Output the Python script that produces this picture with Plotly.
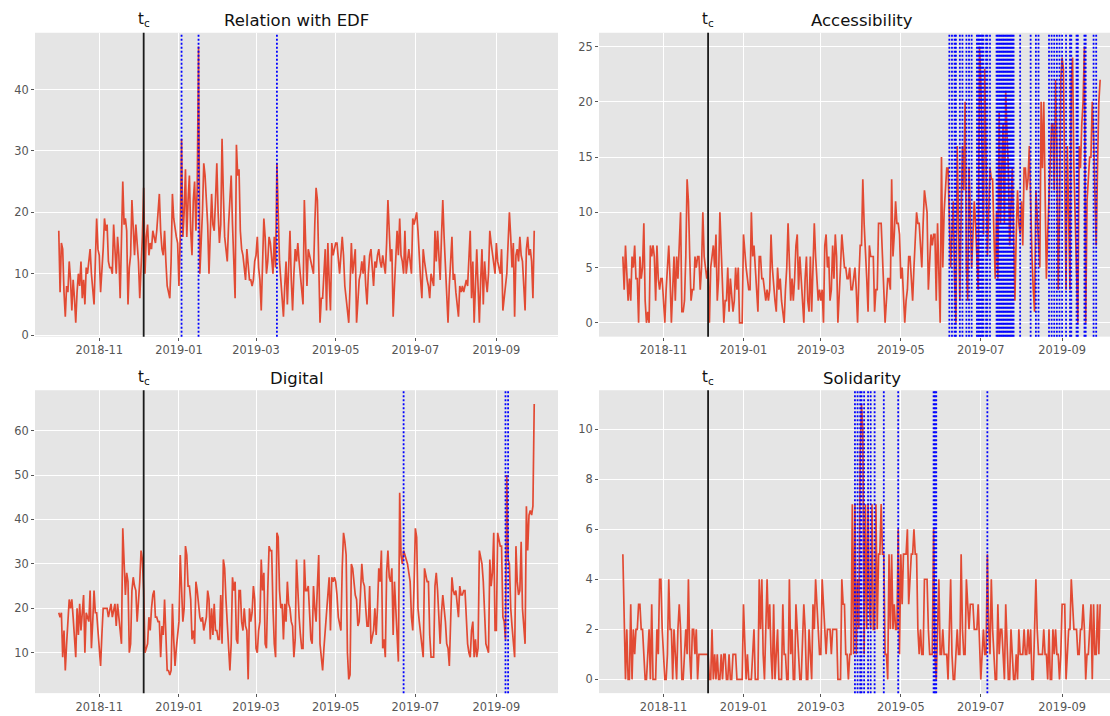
import pandas as pd
import plotly.graph_objects as go

# ---------------- data ----------------
dates = pd.date_range("2018-10-01", "2019-09-30", freq="D")
tc_date = "2018-12-05"
titles = ["Relation with EDF", "Accessibility", "Digital", "Solidarity"]

edf = [
    17, 7, 15, 14, 7, 3, 8, 7, 12, 9, 4, 9, 6, 2, 7, 10, 8, 12, 6, 9, 5, 11, 10, 12, 14, 10, 8, 5, 12, 19, 14,
    13, 7, 10, 14, 19, 17, 18, 12, 11, 11, 10, 18, 14, 10, 16, 13, 6, 14, 25, 18, 19, 17, 5, 11, 13, 22, 16, 13, 18, 15,
    12, 6, 11, 16, 24, 10, 16, 18, 13, 15, 14, 17, 16, 15, 17, 20, 23, 17, 14, 13, 17, 12, 8, 7, 6, 12, 23, 19, 17, 16, 15,
    8, 16, 32, 16, 20, 27, 16, 22, 26, 17, 13, 22, 25, 17, 24, 47, 10, 15, 20, 28, 26, 22, 18, 10, 16, 23, 18, 17, 22, 28, 20,
    15, 18, 32, 23, 16, 14, 12, 18, 22, 26, 18, 12, 6, 31, 26, 27, 17, 14, 13, 11, 9, 14, 12, 9, 9, 8, 9, 12,
    13, 16, 11, 9, 4, 12, 19, 16, 10, 12, 16, 15, 12, 10, 16, 11, 28, 17, 12, 9, 5, 3, 8, 12, 5, 11, 17, 9, 4, 10, 14,
    12, 15, 12, 10, 7, 5, 22, 14, 8, 14, 13, 12, 11, 10, 18, 24, 22, 10, 2, 6, 6, 10, 14, 4, 15, 9, 4, 15, 13, 14,
    15, 15, 12, 10, 13, 16, 13, 8, 6, 4, 2, 8, 15, 10, 12, 14, 2, 6, 9, 10, 12, 10, 13, 8, 5, 10, 13, 14, 11, 8, 12,
    11, 13, 14, 12, 11, 13, 11, 10, 15, 22, 17, 12, 14, 3, 8, 14, 17, 13, 19, 13, 12, 10, 17, 10, 12, 14, 12, 10, 19, 18,
    19, 20, 17, 12, 9, 6, 14, 12, 10, 9, 8, 6, 10, 9, 8, 17, 12, 17, 13, 9, 16, 22, 16, 12, 6, 2, 8, 12, 16, 9, 10,
    7, 5, 3, 8, 7, 8, 7, 8, 9, 8, 12, 17, 6, 12, 2, 8, 14, 8, 2, 9, 14, 5, 12, 9, 7, 10, 17, 15, 13, 11, 10,
    15, 12, 11, 10, 14, 4, 6, 8, 10, 15, 20, 16, 11, 15, 3, 13, 14, 12, 16, 13, 12, 8, 4, 14, 16, 13, 14, 12, 6, 17,
]

accessibility = [
    6, 3, 7, 4, 2, 4, 2, 6, 5, 7, 4, 4, 0, 6, 4, 5, 9, 2, 0, 1, 0, 7, 6, 7, 6, 2, 7, 4, 3, 4, 4,
    2, 0, 3, 5, 7, 4, 0, 3, 6, 2, 6, 4, 7, 10, 1, 1, 2, 6, 13, 11, 6, 2, 3, 3, 6, 5, 6, 6, 3, 5,
    10, 6, 5, 4, 5, 0, 5, 6, 7, 5, 8, 2, 4, 10, 6, 2, 0, 2, 2, 5, 1, 4, 2, 1, 2, 5, 3, 5, 0, 0, 0,
    8, 6, 5, 4, 3, 3, 10, 6, 7, 5, 3, 1, 6, 6, 4, 4, 3, 2, 3, 2, 3, 8, 5, 3, 2, 1, 5, 3, 4, 2, 1,
    0, 3, 5, 9, 6, 2, 4, 2, 4, 7, 8, 3, 6, 4, 2, 0, 4, 6, 2, 1, 6, 1, 5, 9, 6, 4, 2, 3,
    2, 3, 0, 7, 8, 5, 6, 2, 3, 7, 4, 8, 6, 0, 2, 5, 8, 6, 5, 5, 4, 4, 5, 3, 3, 4, 5, 3, 0, 4, 7,
    7, 13, 9, 7, 4, 1, 7, 6, 6, 6, 1, 3, 3, 9, 9, 9, 6, 3, 0, 2, 4, 4, 3, 13, 6, 8, 11, 9, 9, 8,
    4, 5, 2, 0, 2, 3, 6, 6, 4, 2, 5, 7, 10, 9, 9, 7, 5, 9, 12, 11, 10, 3, 5, 8, 7, 8, 8, 2, 9, 5, 0,
    15, 5, 10, 12, 14, 14, 10, 5, 8, 11, 4, 0, 16, 8, 2, 10, 16, 12, 20, 5, 2, 14, 10, 5, 8, 11, 9, 6, 3, 25,
    22, 15, 8, 23, 13, 6, 10, 14, 13, 13, 8, 4, 10, 4, 19, 9, 14, 18, 9, 21, 17, 14, 7, 10, 14, 8, 2, 8, 12, 9, 8,
    11, 7, 14, 14, 12, 13, 16, 9, 6, 3, 1, 12, 10, 8, 5, 20, 14, 20, 12, 4, 8, 12, 15, 18, 18, 12, 22, 16, 3, 10, 22,
    24, 23, 15, 3, 16, 9, 3, 22, 24, 14, 10, 6, 0, 16, 14, 18, 20, 25, 0, 11, 13, 15, 15, 20, 17, 12, 7, 14, 20, 22,
]

digital = [
    19, 18, 19, 9, 15, 6, 12, 18, 22, 20, 22, 18, 14, 9, 20, 14, 21, 15, 19, 23, 10, 19, 18, 17, 24, 11, 17, 24, 19, 19, 15,
    11, 7, 14, 20, 20, 20, 20, 18, 20, 21, 18, 20, 21, 16, 21, 18, 15, 12, 38, 30, 23, 28, 26, 10, 12, 24, 27, 25, 24, 17,
    21, 26, 33, 31, 24, 10, 11, 12, 18, 15, 20, 23, 24, 18, 18, 17, 17, 9, 16, 14, 22, 11, 6, 6, 5, 6, 21, 13, 7, 11, 14,
    17, 32, 24, 17, 20, 34, 32, 25, 25, 22, 13, 15, 12, 26, 24, 20, 18, 17, 18, 15, 17, 18, 24, 22, 13, 20, 14, 21, 15, 15, 13,
    13, 23, 12, 31, 29, 22, 17, 11, 6, 12, 27, 24, 26, 13, 12, 24, 24, 17, 15, 20, 16, 15, 4, 20, 17, 19, 25, 22,
    11, 10, 15, 17, 31, 24, 28, 12, 11, 24, 34, 33, 33, 20, 12, 9, 37, 36, 24, 20, 21, 13, 21, 17, 26, 21, 20, 17, 16, 9, 13,
    31, 22, 18, 14, 11, 11, 31, 24, 24, 25, 18, 13, 12, 25, 20, 17, 25, 32, 12, 8, 6, 11, 15, 19, 22, 27, 15, 27, 26, 27,
    26, 23, 18, 16, 15, 29, 37, 35, 32, 10, 4, 5, 30, 29, 26, 23, 22, 16, 17, 24, 30, 26, 25, 20, 16, 16, 25, 12, 14, 15, 20,
    14, 20, 29, 26, 33, 11, 13, 9, 28, 33, 27, 26, 29, 14, 26, 20, 13, 8, 46, 32, 30, 33, 32, 31, 30, 28, 26, 18, 15, 25,
    38, 36, 20, 17, 14, 11, 9, 29, 27, 26, 26, 14, 9, 9, 9, 25, 28, 24, 17, 12, 19, 23, 20, 17, 12, 11, 7, 17, 27, 24, 23,
    24, 21, 18, 25, 23, 23, 24, 24, 18, 12, 10, 9, 15, 17, 9, 13, 9, 11, 33, 31, 30, 26, 17, 12, 11, 10, 31, 25, 28, 37, 15,
    15, 37, 35, 34, 34, 18, 17, 13, 50, 31, 30, 20, 16, 13, 9, 34, 26, 23, 24, 35, 20, 16, 12, 43, 33, 41, 42, 41, 43, 66,
]

solidarity = [
    5, 2, 0, 2, 0, 0, 3, 0, 2, 1, 2, 2, 3, 3, 2, 2, 1, 0, 0, 1, 2, 0, 3, 0, 0, 0, 2, 1, 4, 4, 2,
    1, 0, 0, 1, 4, 2, 2, 0, 2, 1, 0, 2, 3, 2, 0, 0, 1, 2, 1, 4, 1, 0, 2, 2, 1, 2, 0, 1, 1, 1,
    1, 1, 1, 1, 1, 0, 0, 2, 0, 1, 0, 1, 0, 0, 1, 0, 1, 1, 0, 0, 1, 0, 0, 1, 1, 1, 0, 0, 0, 0, 0,
    3, 1, 0, 1, 0, 0, 0, 1, 2, 0, 0, 0, 4, 2, 4, 1, 0, 2, 4, 2, 3, 1, 0, 3, 0, 1, 2, 0, 0, 0, 3,
    1, 1, 0, 0, 4, 1, 2, 0, 0, 3, 2, 1, 0, 0, 2, 3, 2, 0, 0, 2, 1, 0, 3, 2, 4, 3, 2, 1,
    1, 4, 3, 2, 1, 2, 2, 2, 1, 2, 2, 2, 2, 0, 0, 0, 4, 3, 3, 1, 1, 0, 1, 1, 7, 1, 7, 1, 4, 2, 9,
    11, 10, 1, 7, 2, 7, 3, 2, 7, 2, 2, 7, 2, 5, 5, 7, 5, 5, 1, 1, 0, 5, 2, 5, 2, 3, 2, 2, 6, 1,
    5, 3, 5, 5, 5, 6, 3, 4, 5, 5, 6, 5, 5, 2, 1, 2, 1, 1, 4, 4, 4, 2, 1, 1, 1, 6, 1, 0, 2, 4, 1,
    1, 2, 1, 1, 1, 0, 2, 4, 1, 0, 0, 1, 2, 1, 1, 5, 2, 1, 1, 4, 3, 2, 3, 3, 3, 2, 2, 2, 3, 1,
    0, 1, 2, 1, 1, 5, 2, 1, 4, 2, 1, 0, 0, 3, 1, 2, 2, 1, 0, 3, 1, 0, 0, 2, 1, 0, 0, 1, 0, 2, 1,
    1, 1, 2, 1, 1, 2, 1, 2, 0, 0, 2, 4, 2, 1, 1, 1, 1, 2, 1, 1, 0, 2, 0, 0, 2, 1, 2, 1, 1, 0, 1,
    3, 3, 3, 0, 1, 2, 2, 4, 3, 2, 2, 2, 1, 1, 2, 2, 3, 2, 0, 1, 1, 2, 3, 0, 3, 1, 1, 3, 1, 3,
]

edf_events = ["2019-01-03", "2019-01-16", "2019-03-17"]
accessibility_events = [
    "2019-06-07", "2019-06-09", "2019-06-11", "2019-06-12", "2019-06-15", "2019-06-17",
    "2019-06-20", "2019-06-22", "2019-06-24", "2019-06-28", "2019-06-29", "2019-06-30",
    "2019-07-01", "2019-07-02", "2019-07-03", "2019-07-05", "2019-07-06", "2019-07-08",
    "2019-07-13", "2019-07-14", "2019-07-15", "2019-07-16", "2019-07-17", "2019-07-18",
    "2019-07-19", "2019-07-20", "2019-07-21", "2019-07-22", "2019-07-23", "2019-07-24",
    "2019-07-25", "2019-07-26", "2019-07-31",
    "2019-08-08", "2019-08-12", "2019-08-14", "2019-08-22", "2019-08-24", "2019-08-26",
    "2019-08-28", "2019-08-30",
    "2019-09-01", "2019-09-04", "2019-09-07", "2019-09-08", "2019-09-12", "2019-09-13",
    "2019-09-18", "2019-09-19", "2019-09-25", "2019-09-27",
]
digital_events = ["2019-06-22", "2019-09-08", "2019-09-10"]
solidarity_events = [
    "2019-03-27", "2019-03-29", "2019-03-31", "2019-04-01", "2019-04-03", "2019-04-06",
    "2019-04-08", "2019-04-11", "2019-04-18", "2019-04-29", "2019-05-26", "2019-05-27",
    "2019-05-28", "2019-07-06",
]

# ---------------- style ----------------
RED = "#E24A33"
BG = "#E5E5E5"
TICK = "#555555"
FONT = "DejaVu Sans"
W, H = 1110, 716

# pixel boxes of the four axes (left, right, top, bottom); right column is cut by the page edge
boxes = [
    (35, 558, 33, 339),
    (599, 1110, 33, 339),
    (35, 558, 393, 698),
    (599, 1110, 393, 698),
]
full_right = 1124  # right edge of the right-hand axes before the cut

series = [edf, accessibility, digital, solidarity]
events = [edf_events, accessibility_events, digital_events, solidarity_events]
ytick_step = [10, 5, 10, 2]

fig = go.Figure()
layout = dict(
    width=W, height=H, margin=dict(l=0, r=0, t=0, b=0),
    paper_bgcolor="white", plot_bgcolor=BG, showlegend=False,
    font=dict(family=FONT, color=TICK),
)
shapes, annotations = [], []

span = dates[-1] - dates[0]
x0 = dates[0] - span * 0.05
x1 = dates[-1] + span * 0.05

for i in range(4):
    vals = series[i]
    n = min(len(vals), len(dates))
    xa = "x" if i == 0 else f"x{i + 1}"
    ya = "y" if i == 0 else f"y{i + 1}"
    l, r, t, b = boxes[i]
    fig.add_trace(go.Scatter(
        x=dates[:n], y=vals[:n], mode="lines",
        line=dict(color=RED, width=1.7), xaxis=xa, yaxis=ya,
    ))
    vmin, vmax = min(vals), max(vals)
    pad = 0.05 * (vmax - vmin)
    if l > 500:
        frac = float(r - l) / float(full_right - l)
        xr_end = x0 + pd.Timedelta(seconds=(x1 - x0).total_seconds() * frac)
    else:
        xr_end = x1
    xkey = "xaxis" if i == 0 else f"xaxis{i + 1}"
    ykey = "yaxis" if i == 0 else f"yaxis{i + 1}"
    layout[xkey] = dict(
        domain=[l / W, r / W], anchor=ya, type="date",
        range=[str(x0), str(xr_end)],
        tick0="2018-11-01", dtick="M2", tickformat="%Y-%m",
        showgrid=True, gridcolor="white", gridwidth=1,
        ticks="outside", ticklen=3, tickcolor=TICK,
        tickfont=dict(family=FONT, size=11.4, color=TICK),
        showline=False, zeroline=False,
    )
    layout[ykey] = dict(
        domain=[1 - b / H, 1 - t / H], anchor=xa,
        range=[vmin - pad, vmax + pad], dtick=ytick_step[i], tick0=0,
        showgrid=True, gridcolor="white", gridwidth=1,
        ticks="outside", ticklen=3, tickcolor=TICK,
        tickfont=dict(family=FONT, size=11.4, color=TICK),
        showline=False, zeroline=False,
    )
    for ev in events[i]:
        shapes.append(dict(
            type="line", xref=xa, yref=f"{ya} domain", x0=ev, x1=ev, y0=0, y1=1,
            line=dict(color="#0000FF", width=1.8, dash="2px,2px"), layer="above",
        ))
    shapes.append(dict(
        type="line", xref=xa, yref=f"{ya} domain", x0=tc_date, x1=tc_date, y0=0, y1=1,
        line=dict(color="#1a1a1a", width=1.8), layer="above",
    ))
    centre = (l + (full_right if l > 500 else r)) / 2
    annotations.append(dict(
        text=titles[i], xref="paper", yref="paper", x=centre / W, y=1 - t / H,
        xanchor="center", yanchor="middle", yshift=12, showarrow=False,
        font=dict(family=FONT, size=16.5, color="#111111"),
    ))
    annotations.append(dict(
        text="t<sub>c</sub>", xref=xa, yref="paper", x=tc_date, y=1 - t / H,
        xanchor="center", yanchor="middle", yshift=13, showarrow=False,
        font=dict(family=FONT, size=15, color="#111111"),
    ))

layout["shapes"] = shapes
layout["annotations"] = annotations
fig.update_layout(**layout)
fig.write_html(
    "out.html",
    config={"displayModeBar": False},
    post_script="document.body.style.margin='0';",
)
